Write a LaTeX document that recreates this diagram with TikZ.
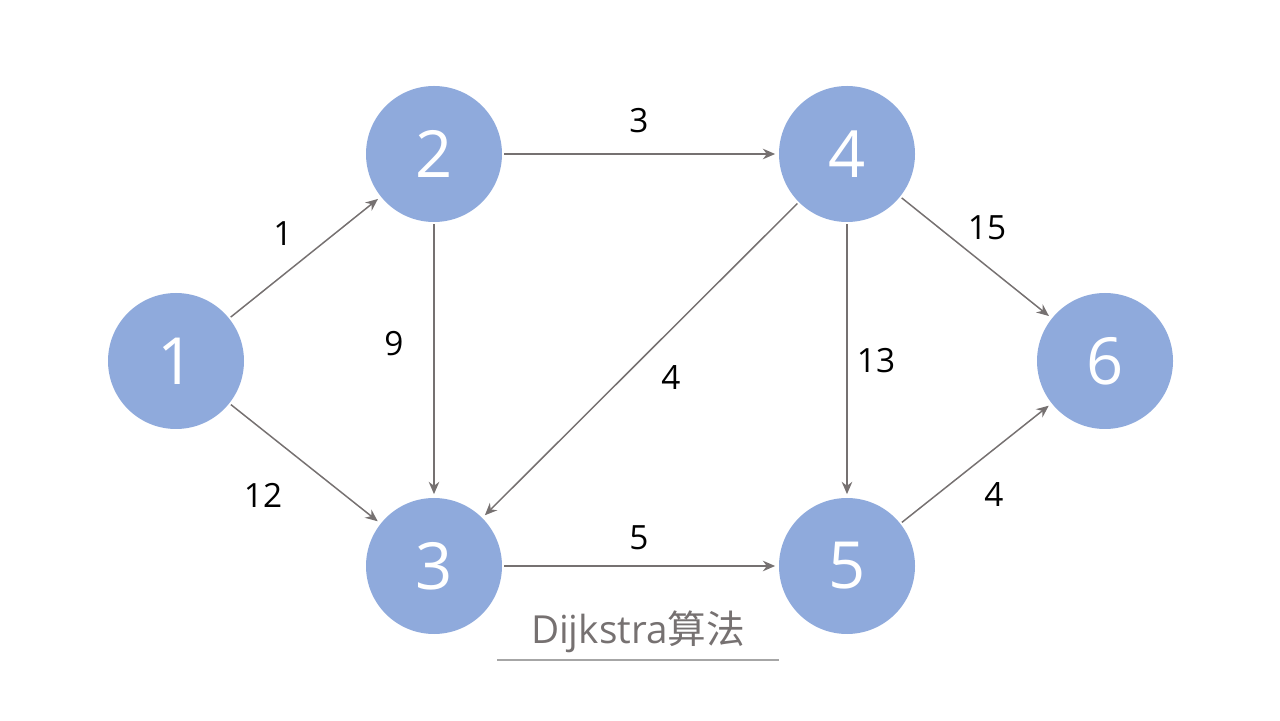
\documentclass[tikz,border=0pt]{standalone}
\usepackage{fontspec}
\setmainfont{Open Sans}
\newfontfamily\cjk{Noto Sans CJK SC}
\usetikzlibrary{arrows.meta}
\definecolor{nodeblue}{HTML}{8FAADC}
\definecolor{edgegray}{HTML}{767171}
\definecolor{linegray}{HTML}{A6A6A6}
\begin{document}
\begin{tikzpicture}
        \tikzstyle{vertex} = [circle, fill=nodeblue, minimum size=2.72cm, inner sep=0pt, text=white, font=\fontsize{37}{37}\selectfont]
        \tikzstyle{edge} = [-{Stealth[length=7pt, width=6pt]}, edgegray, line width=0.85pt, shorten >=2pt, shorten <=1pt]
        \tikzstyle{weight} = [font=\fontsize{19}{19}\selectfont]
        \useasboundingbox (0,0) rectangle (25.6,14.4);
        \node (v1) [vertex] at (3.52,7.18) {1};
        \node (v2) [vertex] at (8.68,11.32) {2};
        \node (v3) [vertex] at (8.68,3.08) {3};
        \node (v4) [vertex] at (16.94,11.32) {4};
        \node (v5) [vertex] at (16.94,3.08) {5};
        \node (v6) [vertex] at (22.10,7.18) {6};
        \draw[edge] (v1) -- (v2);
        \draw[edge] (v1) -- (v3);
        \draw[edge] (v2) -- (v4);
        \draw[edge] (v2) -- (v3);
        \draw[edge] (v4) -- (v3);
        \draw[edge] (v4) -- (v5);
        \draw[edge] (v4) -- (v6);
        \draw[edge] (v3) -- (v5);
        \draw[edge] (v5) -- (v6);
        \node (w12) [weight] at (5.66,9.72) {1};
        \node (w13) [weight] at (5.26,4.50) {12};
        \node (w24) [weight] at (12.78,11.98) {3};
        \node (w23) [weight] at (7.88,7.52) {9};
        \node (w43) [weight] at (13.42,6.84) {4};
        \node (w45) [weight] at (17.52,7.18) {13};
        \node (w46) [weight] at (19.74,9.84) {15};
        \node (w35) [weight] at (12.78,3.64) {5};
        \node (w56) [weight] at (19.88,4.50) {4};
        \node (title) [text=edgegray, font=\fontsize{22}{22}\selectfont] at (12.76,1.76) {Dijkstra{\cjk 算法}};
        \coordinate (ul) at (9.94,1.20);
        \coordinate (ur) at (15.58,1.20);
        \draw[linegray, line width=0.6pt] (ul) -- (ur);
    \end{tikzpicture}
\end{document}
